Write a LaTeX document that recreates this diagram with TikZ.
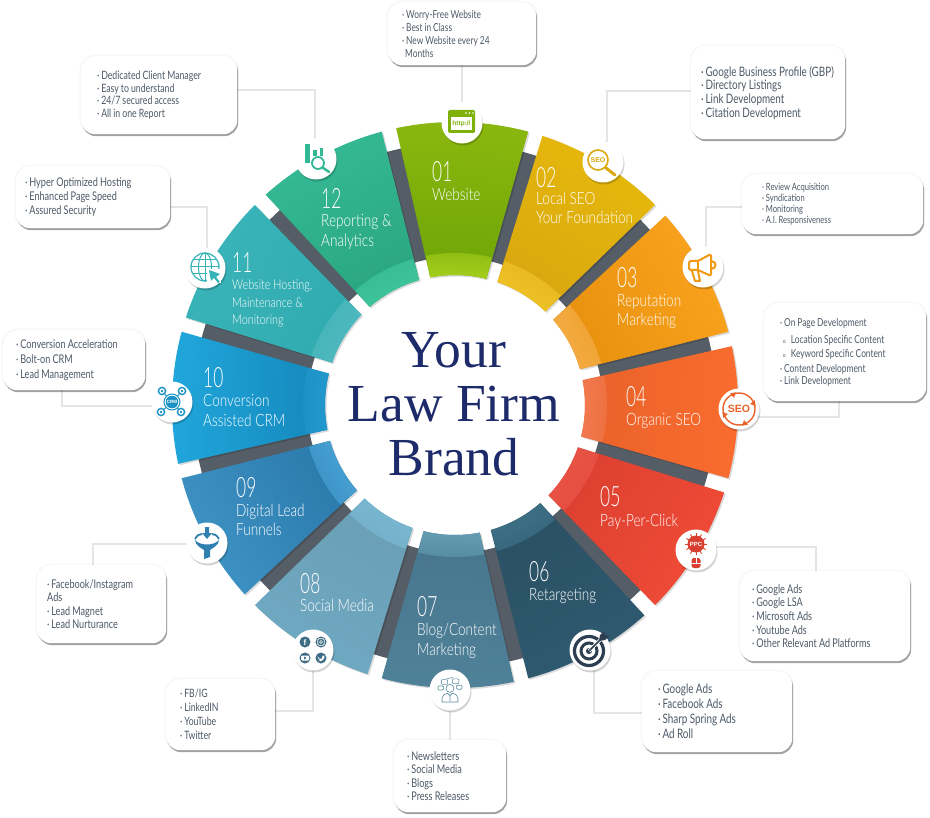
\documentclass[tikz,border=0pt]{standalone}
\usepackage{fontspec}
\usetikzlibrary{backgrounds,calc}
\setmainfont[FakeStretch=.76]{Lato}
\newfontfamily\numf[FakeStretch=.62]{Lato Light}
\newfontfamily\lblf[FakeStretch=.8]{Lato Light}
\newfontfamily\titlef{Liberation Serif}
\newfontfamily\icf{Liberation Sans}
\definecolor{ringdark}{HTML}{555D66}
\definecolor{titlecol}{HTML}{1D2B6B}
\definecolor{cardtxt}{HTML}{4D5966}
\definecolor{connc}{HTML}{E3E5E8}
\definecolor{gA}{HTML}{7FB10A}\definecolor{gB}{HTML}{D9A90F}\definecolor{gC}{HTML}{F19A16}
\definecolor{gD}{HTML}{E9622A}\definecolor{gE}{HTML}{D93F30}\definecolor{gF}{HTML}{2C3E50}
\definecolor{gG}{HTML}{5B8BA0}\definecolor{gH}{HTML}{3F6D85}\definecolor{gI}{HTML}{2F7FB0}
\definecolor{gJ}{HTML}{1C93C6}\definecolor{gK}{HTML}{36B3B7}\definecolor{gL}{HTML}{33B894}
\tikzset{
  cardbox/.style={fill=white,rounded corners=14pt,anchor=north west,text=cardtxt,align=left,
    preaction={draw=black,draw opacity=.03,line width=3pt},
    preaction={fill=black,fill opacity=.35,transform canvas={shift={(1pt,-2pt)}}}},
  iconcirc/.style={circle,fill=white,minimum size=41pt,inner sep=0pt,
    preaction={fill=black,fill opacity=.18,transform canvas={shift={(1pt,-2pt)}}}},
  conn/.style={draw=connc,line width=1.8pt,line join=miter},
  numtxt/.style={anchor=base west,inner sep=0pt,text=white,font=\numf\fontsize{28}{30}\selectfont},
  segtxt/.style={anchor=base west,inner sep=0pt,text=white,font=\lblf\fontsize{17}{20}\selectfont},
  smalltxt/.style={anchor=base west,inner sep=0pt,text=white,font=\lblf\fontsize{13.5}{16}\selectfont},
  icontxt/.style={inner sep=0pt,font=\icf\bfseries\fontsize{#1}{#1}\selectfont},
}
\newcommand\bu{·\hspace{1.8pt}}
\newcommand\subo{\hspace{3pt}{\fontsize{6}{6}\selectfont o}\hspace{5pt}}
\newcommand\ringseg[4]{%
  \definecolor{segouter}{HTML}{#2}\definecolor{seginner}{HTML}{#3}\definecolor{segband}{HTML}{#4}%
  \pgfmathsetmacro\ca{#1+13.5}\pgfmathsetmacro\cb{#1-13.5}%
  \pgfmathsetmacro\ia{#1+12.5}\pgfmathsetmacro\ib{#1-12.5}%
  \pgfmathsetmacro\sa{#1-90}%
  \def\segp{(\ca:283pt) arc[start angle=\ca,end angle=\cb,radius=283pt] -- (\ib:130pt) arc[start angle=\ib,end angle=\ia,radius=130pt] -- cycle}%
  \fill[black,opacity=.14,shift={(1.5pt,-1.5pt)}] \segp;
  \shade[top color=segouter,bottom color=seginner,shading angle=\sa] \segp;
  \shade[top color=segband!55!seginner,bottom color=segband,shading angle=\sa] (\ia:130pt) arc[start angle=\ia,end angle=\ib,radius=130pt] -- (\ib:152pt) arc[start angle=\ib,end angle=\ia,radius=152pt] -- cycle;
}
\newcommand\card[9]{%
  \pgfmathsetlengthmacro\cw{(#4-#2)*1pt}\pgfmathsetlengthmacro\ch{(#5-#3)*1pt}%
  \pgfmathsetlengthmacro\tw{(#4-#2-2*#6)*1pt}%
  \node[cardbox,minimum width=\cw,minimum height=\ch,inner xsep=#6pt,inner ysep=0pt,text width=\tw,
    font=\fontsize{#7}{#8}\selectfont] (#1) at (#2,#3) {\spaceskip=.18em\relax #9};
}
\begin{document}
\begin{tikzpicture}[x=1pt,y=-1pt]
\useasboundingbox (0,0) rectangle (930,818);
\begin{scope}[on background layer]
  \fill[white] (0,0) rectangle (930,818);
\end{scope}
% ring
\begin{scope}[shift={(455,405)}]
  \fill[ringdark,even odd rule] (0,0) circle[radius=262pt] (0,0) circle[radius=148pt];
  \ringseg{88.5}{8BB80F}{6EA506}{A6CF1C}
  \ringseg{58.5}{E6B90C}{D9A70F}{F0C428}
  \ringseg{28.5}{F9A31E}{E8910F}{F5AE48}
  \ringseg{-1.5}{FA6C2E}{E9622A}{F27A50}
  \ringseg{-31.5}{F04B37}{DC4030}{EA5548}
  \ringseg{-61.5}{2F5A70}{2A5064}{3F7389}
  \ringseg{-91.5}{4F8199}{47768D}{649DB2}
  \ringseg{-121.5}{6FA9C2}{6A9FB6}{7AB9D3}
  \ringseg{-151.5}{3F93C5}{2A7AAB}{4AA3D6}
  \ringseg{-181.5}{21A7DC}{1487BB}{2299CE}
  \ringseg{-211.5}{3AB4B8}{30ABB0}{52BAC0}
  \ringseg{-241.5}{35BA96}{2AA67F}{40C89E}
\end{scope}
% title
\node[inner sep=0pt,align=center,text=titlecol,font=\titlef\fontsize{53.5}{54}\selectfont] (title) at (454,404) {Your\\Law Firm\\Brand};
% segment labels
\node[numtxt] (n01) at (432,182) {01};
\node[segtxt] (t01a) at (432,201) {Website};
\node[numtxt] (n02) at (536,188) {02};
\node[segtxt] (t02a) at (536,205) {Local SEO};
\node[segtxt] (t02b) at (536,224) {Your Foundation};
\node[numtxt] (n03) at (617,288) {03};
\node[segtxt] (t03a) at (617,307) {Reputation};
\node[segtxt] (t03b) at (617,326) {Marketing};
\node[numtxt] (n04) at (626,407) {04};
\node[segtxt] (t04a) at (626,426) {Organic SEO};
\node[numtxt] (n05) at (600,507) {05};
\node[segtxt] (t05a) at (600,526) {Pay-Per-Click};
\node[numtxt] (n06) at (529,581) {06};
\node[segtxt] (t06a) at (529,600) {Retargeting};
\node[numtxt] (n07) at (417,616) {07};
\node[segtxt] (t07a) at (417,635) {Blog/Content};
\node[segtxt] (t07b) at (417,655) {Marketing};
\node[numtxt] (n08) at (300,593) {08};
\node[segtxt] (t08a) at (300,611) {Social Media};
\node[numtxt] (n09) at (236,497) {09};
\node[segtxt] (t09a) at (236,516) {Digital Lead};
\node[segtxt] (t09b) at (236,536) {Funnels};
\node[numtxt] (n10) at (203,388) {10};
\node[segtxt] (t10a) at (203,407) {Conversion};
\node[segtxt] (t10b) at (203,427) {Assisted CRM};
\node[numtxt] (n11) at (232,273) {11};
\node[smalltxt] (t11a) at (232,290) {Website Hosting,};
\node[smalltxt] (t11b) at (232,308) {Maintenance \&};
\node[smalltxt] (t11c) at (232,325) {Monitoring};
\node[numtxt] (n12) at (321,209) {12};
\node[segtxt] (t12a) at (321,227) {Reporting \&};
\node[segtxt] (t12b) at (321,247) {Analytics};
% icon circles
\node[iconcirc] (i01) at (462,123) {};
\node[iconcirc] (i02) at (603,162) {};
\node[iconcirc] (i03) at (703,267) {};
\node[iconcirc] (i04) at (739,409) {};
\node[iconcirc] (i05) at (696,550) {};
\node[iconcirc] (i06) at (590,650) {};
\node[iconcirc] (i07) at (450,690) {};
\node[iconcirc] (i08) at (313,650) {};
\node[iconcirc] (i09) at (207,543) {};
\node[iconcirc] (i10) at (172,402) {};
\node[iconcirc] (i11) at (205,268) {};
\node[iconcirc] (i12) at (316,159) {};
% cards
\card{c01}{388}{2}{536}{65}{14}{11}{13}{\bu Worry-Free Website\\\bu Best in Class\\\bu New Website every 24\\\hspace{3pt}Months}
\card{c02}{691}{46}{845}{139}{10}{13}{13.7}{\bu Google Business Profile (GBP)\\\bu Directory Listings\\\bu Link Development\\\bu Citation Development}
\card{c03}{742}{174}{923}{234}{20}{10}{11}{\bu Review Acquisition\\\bu Syndication\\\bu Monitoring\\\bu A.I. Responsiveness}
\card{c04}{764}{303}{926}{401}{16}{11}{13}{\bu On Page Development\\[4pt]\subo Location Specific Content\\[1pt]\subo Keyword Specific Content\\[1.5pt]\bu Content Development\\[-1pt]\bu Link Development}
\card{c05}{740}{571}{910}{661}{12}{12}{13.6}{\bu Google Ads\\\bu Google LSA\\\bu Microsoft Ads\\\bu Youtube Ads\\\bu Other Relevant Ad Platforms}
\card{c06}{642}{671}{792}{752}{16}{13}{15}{\bu Google Ads\\\bu Facebook Ads\\\bu Sharp Spring Ads\\\bu Ad Roll}
\card{c07}{394}{740}{506}{812}{13}{12}{13.5}{\bu Newsletters\\\bu Social Media\\\bu Blogs\\\bu Press Releases}
\card{c08}{166}{679}{275}{750}{14}{11.5}{14}{\bu FB/IG\\\bu LinkedIN\\\bu YouTube\\\bu Twitter}
\card{c09}{37}{565}{166}{643}{10}{12}{13.6}{\bu Facebook/Instagram\\Ads\\\bu Lead Magnet\\\bu Lead Nurturance}
\card{c10}{3}{330}{145}{390}{13}{12}{14.6}{\bu Conversion Acceleration\\\bu Bolt-on CRM\\\bu Lead Management}
\card{c11}{16}{166}{170}{228}{9}{12}{13.6}{\bu Hyper Optimized Hosting\\\bu Enhanced Page Speed\\\bu Assured Security}
\card{c12}{81}{56}{237}{134}{16}{11.5}{12.8}{\bu Dedicated Client Manager\\\bu Easy to understand\\\bu 24/7 secured access\\\bu All in one Report}
% connectors
\coordinate (e02) at (607,91);
\coordinate (e03) at (706,207);
\coordinate (e04) at (839,417);
\coordinate (e05) at (816,547);
\coordinate (e06) at (594,713);
\coordinate (e08) at (313,711);
\coordinate (e09) at (93,544);
\coordinate (e10) at (62,406);
\coordinate (e11) at (207,207);
\coordinate (e12) at (315,90);
\begin{scope}[on background layer]
  \draw[conn] (c01.south -| i01) -- (i01);
  \draw[conn] (c02.west |- e02) -- (e02) -- (e02 |- i02);
  \draw[conn] (c03.west |- e03) -- (e03) -- (e03 |- i03);
  \draw[conn] (c04.south -| e04) -- (e04) -- (e04 -| i04);
  \draw[conn] (c05.north -| e05) -- (e05) -- (e05 -| i05);
  \draw[conn] (c06.west |- e06) -- (e06) -- (e06 |- i06);
  \draw[conn] (c07.north -| i07) -- (i07);
  \draw[conn] (c08.east |- e08) -- (e08) -- (e08 |- i08);
  \draw[conn] (c09.north -| e09) -- (e09) -- (e09 -| i09);
  \draw[conn] (c10.south -| e10) -- (e10) -- (e10 -| i10);
  \draw[conn] (c11.east |- e11) -- (e11) -- (e11 |- i11);
  \draw[conn] (c12.east |- e12) -- (e12) -- (e12 |- i12);
\end{scope}
% glyph 01 window
\begin{scope}[shift={(i01)}]
  \fill[gA,rounded corners=1.5pt] (-14,-13) rectangle (13,10);
  \fill[white] (-11,-6) rectangle (10,7);
  \foreach \dx in {4,7.5,11} \fill[white] (\dx,-10) circle[radius=.9pt];
  \node[icontxt=6.5,text=gA] (g01) at (-.5,.5) {http://};
\end{scope}
% glyph 02 magnifier
\begin{scope}[shift={(i02)}]
  \draw[gB,line width=1.6pt] (-5,-2) circle[radius=10pt];
  \draw[gB,line width=3pt,line cap=round] (3,6) -- (12,13);
  \node[icontxt=7,text=gB] (g02) at (-5,-2) {SEO};
\end{scope}
% glyph 03 megaphone
\begin{scope}[shift={(i03)}]
  \draw[gC,line width=2pt,line join=round,rounded corners=1.5pt] (-14,-6) -- (-5,-6) -- (8,-13) -- (8,9) -- (-5,3) -- (-14,3) -- cycle;
  \draw[gC,line width=2pt] (-5,-6) -- (-5,3);
  \draw[gC,line width=2pt,line join=round] (-11,4) -- (-8,14) -- (-3,14) -- (-5,4);
  \draw[gC,line width=2pt] (8,-6) .. controls (14,-6) and (14,2) .. (8,2);
\end{scope}
% glyph 04 circular SEO
\begin{scope}[shift={(i04)}]
  \draw[gD,line width=1.4pt] (0,0) circle[radius=16pt];
  \foreach \a in {20,110,200,290}{\fill[gD] (\a:16pt) ++(\a+60:3.5pt) -- ++(\a+200:6pt) -- ++(\a-40:6pt) -- cycle;}
  \node[icontxt=10.5,text=gD,fill=white,inner xsep=1pt] (g04) at (0,0) {SEO};
\end{scope}
% glyph 05 PPC
\begin{scope}[shift={(i05)}]
  \foreach \a in {0,30,...,330}{\draw[gE,line width=.9pt] ($(0,-6)+(\a:8pt)$) -- ($(0,-6)+(\a:11pt)$);}
  \fill[gE] (0,-6) circle[radius=8.5pt];
  \node[icontxt=6,text=white] (g05) at (0,-6) {PPC};
  \fill[gE,rounded corners=2.5pt] (-4.5,8) rectangle (4.5,18);
  \draw[white,line width=.8pt] (-4.5,13) -- (4.5,13) (0,8) -- (0,13);
\end{scope}
% glyph 06 target
\begin{scope}[shift={(i06)}]
  \draw[gF,line width=3.2pt] (-1,1) circle[radius=14.5pt];
  \draw[gF,line width=3pt] (-1,1) circle[radius=8pt];
  \fill[gF] (-1,1) circle[radius=3pt];
  \draw[white,line width=3.5pt] (-1,1) -- (13,-13);
  \draw[gF,line width=1.6pt] (-1,1) -- (12,-12);
  \fill[gF] (9,-9) -- (10,-15) -- (14,-19) -- (15,-15) -- (19,-14) -- (15,-10) -- cycle;
\end{scope}
% glyph 07 people
\begin{scope}[shift={(i07)},scale=.8]
  \draw[gG,line width=.6pt] (0,-2) circle[radius=5pt];
  \draw[gG,line width=.6pt] (-10,15) -- (-10,10) .. controls (-10,6) and (-6,5) .. (-3,4) -- (0,7) -- (3,4) .. controls (6,5) and (10,6) .. (10,10) -- (10,15) -- cycle;
  \draw[gG,line width=.6pt,fill=white,rounded corners=1pt] (-11,-13) rectangle (-3,-7);
  \draw[gG,line width=.6pt,fill=white,rounded corners=1pt] (3,-14) rectangle (11,-8);
  \draw[gG,line width=.6pt,fill=white,rounded corners=1pt] (-15,-5) rectangle (-8,0);
  \draw[gG,line width=.6pt,fill=white,rounded corners=1pt] (8,-6) rectangle (15,-1);
  \draw[gG,line width=.6pt] (-4,-14) -- (4,-16) (0,7) -- (0,14);
\end{scope}
% glyph 08 social
\begin{scope}[shift={(i08)}]
  \fill[gH] (-8,-8) circle[radius=5.5pt] (8,-8) circle[radius=5.5pt] (-8,8) circle[radius=5.5pt] (8,8) circle[radius=5.5pt];
  \node[icontxt=8,text=white] (g08) at (-8,-7.5) {f};
  \draw[white,line width=.7pt,rounded corners=1pt] (4.8,-11.2) rectangle (11.2,-4.8);
  \draw[white,line width=.7pt] (8,-8) circle[radius=1.5pt];
  \fill[white,rounded corners=1pt] (-12,5.5) rectangle (-4,10.5);
  \fill[gH] (-9,6.5) -- (-9,9.5) -- (-6.5,8) -- cycle;
  \fill[white] (4.5,6) .. controls (6,9) and (7,9) .. (9,8.5) .. controls (8.5,6) and (10,5) .. (11.5,5.5) .. controls (12,9) and (9,12) .. (5,11) .. controls (7,11) and (7,10.5) .. (7,10) .. controls (5.5,9) and (4.5,8) .. (4.5,6) -- cycle;
\end{scope}
% glyph 09 funnel
\begin{scope}[shift={(i09)}]
  \fill[gI] (-12,-3) .. controls (-7,3) and (7,3) .. (12,-3) .. controls (12,2) and (6,5) .. (3,7) -- (3,14) -- (-3,16) -- (-3,7) .. controls (-6,5) and (-12,2) .. (-12,-3) -- cycle;
  \draw[gI,line width=1.8pt] (-12,-4) .. controls (-10,-8) and (-7,-9) .. (-5,-9);
  \draw[gI,line width=1.8pt] (12,-4) .. controls (10,-8) and (7,-9) .. (5,-9);
  \fill[gI] (-2,-16) rectangle (2,-10) (-5,-10) -- (5,-10) -- (0,-4) -- cycle;
\end{scope}
% glyph 10 CRM
\begin{scope}[shift={(i10)}]
  \foreach \sx/\sy in {-10/-11,10/-11,-11/10,9/10}{
    \draw[gJ,line width=.9pt] (0,0) -- (\sx,\sy);
    \draw[gJ,line width=1.4pt,fill=white] (\sx,\sy) circle[radius=3.6pt];
    \fill[gJ] (\sx,\sy) circle[radius=1.3pt];}
  \draw[gJ,line width=1pt,fill=white] (0,0) circle[radius=8pt];
  \fill[gJ] (0,0) circle[radius=6.3pt];
  \node[icontxt=4.5,text=white] (g10) at (0,0) {CRM};
\end{scope}
% glyph 11 globe
\begin{scope}[shift={(i11)}]
  \draw[gK,line width=1.2pt] (0,-1) circle[radius=14pt];
  \draw[gK,line width=1pt] (0,-1) ellipse[x radius=6.5pt,y radius=14pt];
  \draw[gK,line width=1pt] (0,-15) -- (0,13) (-14,-1) -- (14,-1) (-12,-8) -- (12,-8) (-12,6) -- (12,6);
  \fill[white] (2,1) rectangle (16,15);
  \fill[gK] (4,2) -- (15,6) -- (11,9) -- (15,14) -- (13,15) -- (9,10) -- (6,13) -- cycle;
\end{scope}
% glyph 12 bars
\begin{scope}[shift={(i12)}]
  \fill[gL] (-11,-15) rectangle (-6,4);
  \fill[gL] (-3,-9) rectangle (1,-3);
  \fill[gL] (4,-11) rectangle (7,-3);
  \draw[gL,line width=1.8pt,fill=white] (2,4) circle[radius=6pt];
  \draw[gL,line width=2.4pt,line cap=round] (6.5,8.5) -- (13,13);
\end{scope}
\end{tikzpicture}
\end{document}
